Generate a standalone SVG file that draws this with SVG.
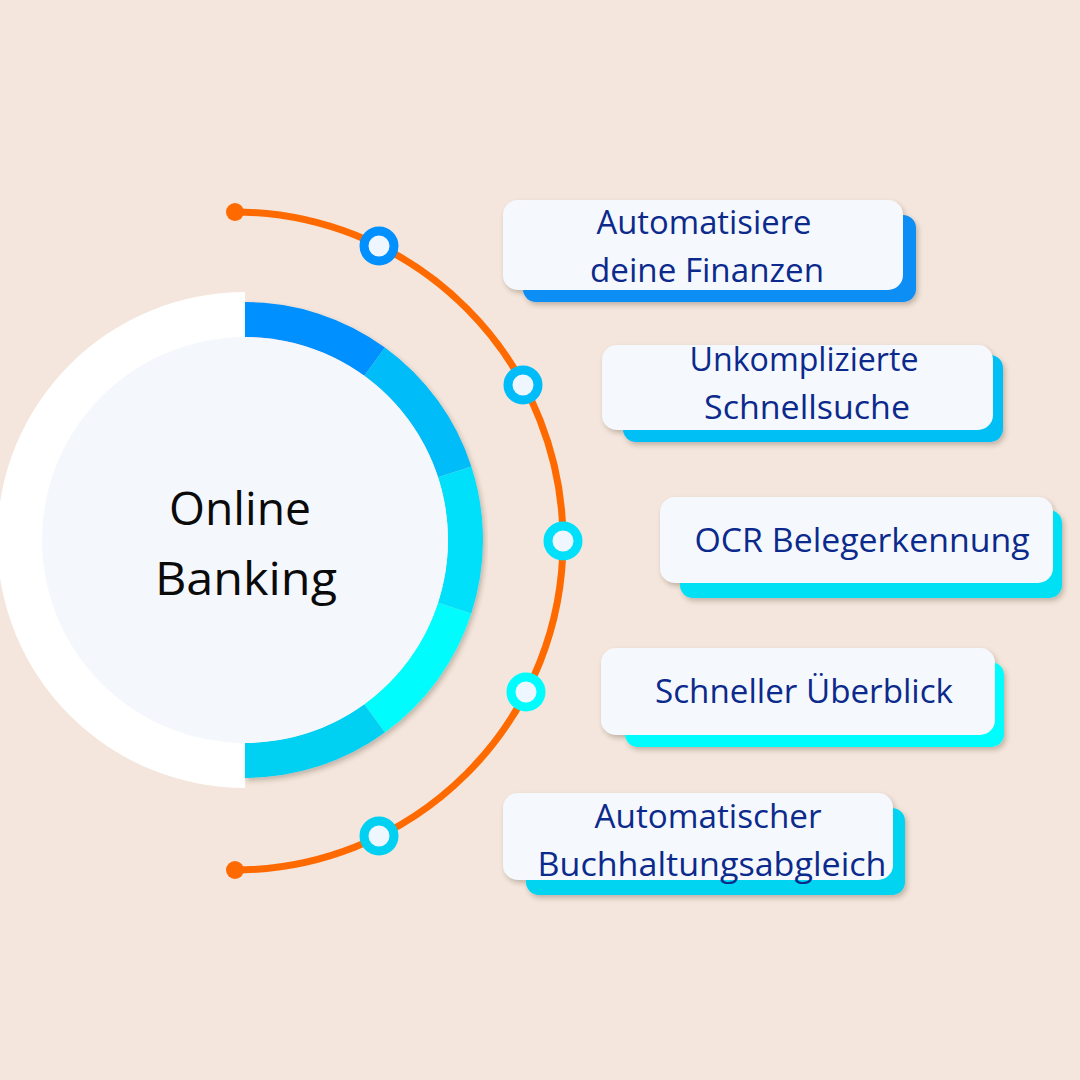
<svg xmlns="http://www.w3.org/2000/svg" width="1080" height="1080" viewBox="0 0 1080 1080">
  <defs>
    <filter id="sh" x="-10%" y="-10%" width="120%" height="130%">
      <feDropShadow dx="2" dy="3" stdDeviation="2.5" flood-color="#3a2a20" flood-opacity="0.28"/>
    </filter>
    <style>
      .card { fill: #f5f9fe; }
      .lbl { font-family: "Open Sans", "Noto Sans", sans-serif; font-size: 32px; fill: #0c2a8c; text-anchor: middle; }
      .ctr { font-family: "Open Sans", "Noto Sans", sans-serif; font-size: 46px; fill: #0a0a0a; text-anchor: middle; }
      .seg { fill: none; stroke-width: 35; stroke-linecap: butt; }
      .dot { fill: #eef6ff; stroke-width: 9; }
      .arc { fill: none; stroke: #ff6a00; stroke-width: 7; }
    </style>
  </defs>
  <rect width="1080" height="1080" fill="#f4e6dc"/>

  <g id="connectors">
    <path class="arc" d="M234,212 A329,329 0 0 1 234,870"/>
    <circle cx="235" cy="212" r="9" fill="#ff6a00"/>
    <circle cx="235" cy="870" r="9" fill="#ff6a00"/>
  </g>

  <g id="node-center">
    <path d="M245,292 A248,248 0 0 0 245,788 Z" fill="#ffffff"/>
    <g filter="url(#sh)">
      <path class="seg" stroke="#0090ff" d="M245,319.5 A220.5,220.5 0 0 1 374.6,361.6"/>
      <path class="seg" stroke="#00bcf8" d="M374.6,361.6 A220.5,220.5 0 0 1 454.7,471.9"/>
      <path class="seg" stroke="#00e0fa" d="M454.7,471.9 A220.5,220.5 0 0 1 454.7,608.1"/>
      <path class="seg" stroke="#00fcfc" d="M454.7,608.1 A220.5,220.5 0 0 1 374.6,718.4"/>
      <path class="seg" stroke="#00d0f2" d="M374.6,718.4 A220.5,220.5 0 0 1 245,760.5"/>
    </g>
    <circle cx="245" cy="540" r="203" fill="#f4f8fd"/>
    <text class="ctr" x="240" y="525" textLength="142" lengthAdjust="spacingAndGlyphs">Online</text>
    <text class="ctr" x="246" y="595" textLength="182" lengthAdjust="spacingAndGlyphs">Banking</text>
  </g>

  <g id="node-1">
    <circle class="dot" cx="379" cy="246" r="15" stroke="#0090ff"/>
    <g filter="url(#sh)">
      <rect x="523" y="215" width="393" height="87" rx="13" fill="#0a8ef5"/>
      <rect class="card" x="503" y="200" width="400" height="90" rx="15"/>
    </g>
    <text class="lbl" x="704" y="234" textLength="215" lengthAdjust="spacingAndGlyphs">Automatisiere</text>
    <text class="lbl" x="707" y="282" textLength="234" lengthAdjust="spacingAndGlyphs">deine Finanzen</text>
  </g>

  <g id="node-2">
    <circle class="dot" cx="523" cy="385" r="15" stroke="#00bcf8"/>
    <g filter="url(#sh)">
      <rect x="623" y="355" width="380" height="87" rx="13" fill="#00bff5"/>
      <rect class="card" x="602" y="345" width="391" height="85" rx="15"/>
    </g>
    <text class="lbl" x="804" y="371" textLength="229" lengthAdjust="spacingAndGlyphs">Unkomplizierte</text>
    <text class="lbl" x="807" y="419" textLength="206" lengthAdjust="spacingAndGlyphs">Schnellsuche</text>
  </g>

  <g id="node-3">
    <circle class="dot" cx="563" cy="541" r="15" stroke="#00e0fa"/>
    <g filter="url(#sh)">
      <rect x="680" y="510" width="382" height="88" rx="13" fill="#00e0f5"/>
      <rect class="card" x="660" y="497" width="393" height="86" rx="15"/>
    </g>
    <text class="lbl" x="862" y="552" textLength="335" lengthAdjust="spacingAndGlyphs">OCR Belegerkennung</text>
  </g>

  <g id="node-4">
    <circle class="dot" cx="526" cy="692" r="15" stroke="#00fcfc"/>
    <g filter="url(#sh)">
      <rect x="625" y="662" width="379" height="85" rx="13" fill="#00fcfc"/>
      <rect class="card" x="601" y="648" width="394" height="87" rx="15"/>
    </g>
    <text class="lbl" x="804" y="703" textLength="298" lengthAdjust="spacingAndGlyphs">Schneller Überblick</text>
  </g>

  <g id="node-5">
    <circle class="dot" cx="379" cy="836" r="15" stroke="#00d0f2"/>
    <g filter="url(#sh)">
      <rect x="526" y="808" width="379" height="87" rx="13" fill="#00d4f0"/>
      <rect class="card" x="503" y="793" width="390" height="87" rx="15"/>
    </g>
    <text class="lbl" x="708" y="828" textLength="227" lengthAdjust="spacingAndGlyphs">Automatischer</text>
    <text class="lbl" x="712" y="876" textLength="349" lengthAdjust="spacingAndGlyphs">Buchhaltungsabgleich</text>
  </g>
</svg>
